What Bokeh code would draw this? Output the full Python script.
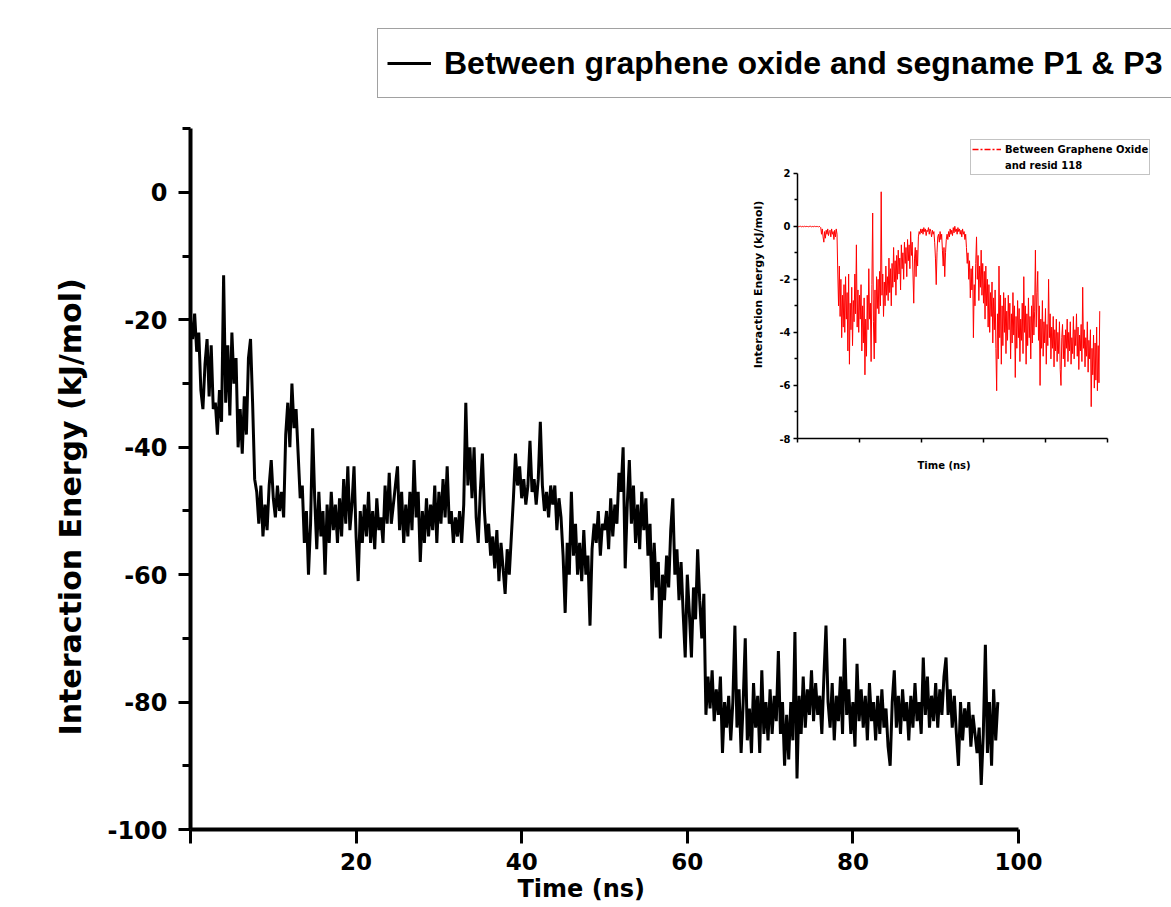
from bokeh.plotting import figure
from bokeh.models import Range1d, FixedTicker, Legend, LegendItem, Title
from bokeh.layouts import column
from bokeh.embed import file_html
from bokeh.resources import INLINE

# ---------------- data ----------------
time_step_ns = 0.25

# main trace: interaction energy (kJ/mol), one row per ns (0, .25, .5, .75)
main_energy = [
    -20, -23, -19, -25,   # 0
    -22, -31, -34, -27,   # 1
    -23, -32, -24, -34,   # 2
    -33, -38, -31, -36,   # 3
    -13, -33, -24, -35,   # 4
    -22, -30, -26, -40,   # 5
    -34, -41, -32, -38,   # 6
    -26, -23, -33, -45,   # 7
    -47, -52, -46, -54,   # 8
    -49, -53, -46, -42,   # 9
    -48, -51, -46, -50,   # 10
    -47, -51, -38, -33,   # 11
    -40, -30, -37, -34,   # 12
    -41, -48, -46, -55,   # 13
    -50, -60, -52, -37,   # 14
    -48, -56, -47, -54,   # 15
    -50, -60, -49, -55,   # 16
    -47, -53, -49, -55,   # 17
    -48, -54, -45, -52,   # 18
    -43, -53, -49, -43,   # 19
    -54, -61, -50, -55,   # 20
    -49, -54, -47, -55,   # 21
    -50, -56, -48, -53,   # 22
    -51, -55, -46, -52,   # 23
    -44, -52, -49, -46,   # 24
    -43, -53, -47, -55,   # 25
    -49, -54, -47, -53,   # 26
    -42, -51, -47, -58,   # 27
    -50, -55, -48, -54,   # 28
    -49, -53, -46, -55,   # 29
    -47, -52, -45, -51,   # 30
    -43, -52, -50, -55,   # 31
    -51, -54, -50, -55,   # 32
    -49, -33, -46, -40,   # 33
    -48, -40, -51, -55,   # 34
    -47, -41, -50, -55,   # 35
    -52, -57, -54, -59,   # 36
    -53, -61, -55, -59,   # 37
    -63, -56, -60, -54,   # 38
    -48, -41, -46, -43,   # 39
    -48, -45, -49, -46,   # 40
    -39, -47, -45, -49,   # 41
    -45, -36, -46, -50,   # 42
    -47, -51, -46, -49,   # 43
    -46, -53, -48, -51,   # 44
    -57, -66, -55, -60,   # 45
    -47, -57, -52, -60,   # 46
    -55, -61, -53, -60,   # 47
    -57, -68, -56, -52,   # 48
    -55, -50, -57, -52,   # 49
    -53, -50, -56, -48,   # 50
    -54, -49, -52, -44,   # 51
    -47, -40, -59, -49,   # 52
    -42, -52, -46, -55,   # 53
    -49, -56, -47, -53,   # 54
    -48, -57, -52, -64,   # 55
    -55, -62, -58, -70,   # 56
    -60, -64, -57, -62,   # 57
    -53, -48, -60, -56,   # 58
    -64, -58, -66, -73,   # 59
    -60, -66, -73, -62,   # 60
    -67, -56, -64, -70,   # 61
    -63, -82, -76, -81,   # 62
    -75, -83, -78, -82,   # 63
    -76, -88, -80, -84,   # 64
    -79, -86, -80, -68,   # 65
    -84, -78, -88, -80,   # 66
    -70, -86, -81, -88,   # 67
    -77, -84, -79, -88,   # 68
    -75, -85, -80, -86,   # 69
    -78, -85, -79, -83,   # 70
    -72, -85, -80, -90,   # 71
    -82, -89, -80, -86,   # 72
    -69, -92, -79, -85,   # 73
    -76, -84, -78, -82,   # 74
    -75, -83, -77, -82,   # 75
    -79, -85, -76, -68,   # 76
    -80, -84, -77, -86,   # 77
    -79, -83, -76, -85,   # 78
    -70, -82, -78, -85,   # 79
    -80, -87, -74, -83,   # 80
    -78, -84, -79, -86,   # 81
    -77, -83, -80, -86,   # 82
    -79, -85, -78, -84,   # 83
    -81, -87, -90, -80,   # 84
    -75, -84, -79, -85,   # 85
    -78, -83, -80, -86,   # 86
    -79, -84, -77, -83,   # 87
    -80, -85, -73, -82,   # 88
    -76, -84, -79, -83,   # 89
    -77, -84, -78, -82,   # 90
    -76, -73, -82, -78,   # 91
    -84, -79, -85, -90,   # 92
    -80, -86, -81, -84,   # 93
    -80, -87, -82, -85,   # 94
    -88, -84, -93, -85,   # 95
    -71, -88, -80, -90,   # 96
    -78, -86, -80,        # 97
]

# inset trace: interaction energy with resid 118 (kJ/mol)
inset_energy = [
    0.0, -0.02, 0.0, -0.01,     # 0
    0.0, -0.02, -0.01, 0.0,     # 1
    -0.02, 0.0, -0.01, -0.02,   # 2
    0.0, -0.01, -0.02, 0.0,     # 3
    -0.01, 0.0, -0.02, -0.01,   # 4
    0.0, -0.02, 0.0, -0.01,     # 5
    -0.02, 0.0, -0.01, -0.03,   # 6
    0.0, -0.02, -0.05, -0.3,    # 7
    -0.1, -0.4, -0.6, -0.2,     # 8
    -0.45, -0.15, -0.3, -0.1,   # 9
    -0.35, -0.2, -0.15, -0.4,   # 10
    -0.1, -0.3, -0.2, -0.5,     # 11
    -0.15, -0.4, -0.1, -0.3,    # 12
    -1.8, -3.0, -1.5, -3.4,     # 13
    -2.0, -4.2, -2.6, -3.8,     # 14
    -2.2, -4.0, -1.9, -3.5,     # 15
    -2.5, -4.7, -1.8, -5.2,     # 16
    -2.9, -3.9, -2.3, -4.5,     # 17
    -2.8, -3.6, -1.8, -3.3,     # 18
    -0.7, -3.8, -2.4, -4.0,     # 19
    -2.6, -3.5, -2.2, -4.7,     # 20
    -3.0, -4.4, -2.7, -5.6,     # 21
    -3.5, -4.9, -2.6, -3.9,     # 22
    -1.6, -3.5, -2.9, -5.1,     # 23
    -2.2, 0.5, -3.6, -5.0,      # 24
    -2.4, -4.4, -1.9, -3.1,     # 25
    -2.0, -3.3, -1.7, -3.0,     # 26
    1.3, -2.6, -1.8, -3.4,      # 27
    -2.1, -3.0, -1.5, -2.6,     # 28
    -1.9, -2.8, -1.2, -2.5,     # 29
    -1.6, -3.0, -1.4, -2.3,     # 30
    -0.8, -2.1, -1.3, -2.6,     # 31
    -1.1, -2.0, -0.9, -1.8,     # 32
    -1.2, -2.4, -0.7, -1.6,     # 33
    -1.0, -2.0, -0.6, -1.4,     # 34
    -0.8, -1.9, -0.5, -1.3,     # 35
    -0.7, -1.6, -0.2, -1.1,     # 36
    -0.6, -1.8, -2.9, -1.2,     # 37
    -0.8, -1.9, -0.9, -1.5,     # 38
    -0.4, -0.2, -0.3, -0.1,     # 39
    -0.25, -0.1, -0.3, -0.05,   # 40
    -0.2, -0.1, -0.35, -0.15,   # 41
    -0.2, -0.05, -0.3, -0.1,    # 42
    -0.2, -0.4, -0.15, -0.3,    # 43
    -0.2, -0.6, -1.2, -2.2,     # 44
    -1.0, -0.4, -0.3, -0.6,     # 45
    -0.2, -0.5, -0.3, -0.9,     # 46
    -1.5, -0.8, -1.9, -1.0,     # 47
    -0.5, -0.3, -0.5, -0.2,     # 48
    -0.4, -0.1, -0.3, -0.15,    # 49
    -0.35, -0.05, -0.25, 0.0,   # 50
    -0.2, -0.1, -0.3, -0.05,    # 51
    -0.2, -0.1, -0.3, -0.15,    # 52
    -0.4, -0.1, -0.3, -0.2,     # 53
    -0.5, -0.3, -0.8, -1.4,     # 54
    -1.0, -2.0, -1.3, -2.7,     # 55
    -1.6, -2.4, -1.5, -4.2,     # 56
    -2.2, -3.0, -1.4, -0.4,     # 57
    -2.0, -1.1, -2.8, -1.5,     # 58
    -2.3, -0.9, -2.6, -1.4,     # 59
    -2.9, -1.7, -3.5, -1.5,     # 60
    -3.0, -2.0, -3.8, -2.2,     # 61
    -4.0, -2.5, -3.4, -2.1,     # 62
    -4.4, -2.7, -3.9, -2.4,     # 63
    -4.6, -6.2, -3.3, -5.0,     # 64
    -1.5, -4.2, -2.6, -5.2,     # 65
    -3.0, -4.5, -2.5, -4.0,     # 66
    -2.7, -4.8, -3.2, -4.3,     # 67
    -2.6, -3.9, -2.9, -5.0,     # 68
    -3.3, -4.4, -2.5, -4.1,     # 69
    -3.0, -5.7, -3.4, -4.6,     # 70
    -2.8, -4.2, -3.1, -5.1,     # 71
    -3.5, -4.3, -2.9, -4.8,     # 72
    -1.9, -4.0, -3.0, -5.2,     # 73
    -3.3, -4.5, -2.7, -4.2,     # 74
    -3.4, -5.0, -3.0, -4.4,     # 75
    -2.6, -4.1, -3.2, -0.9,     # 76
    -3.8, -2.5, -1.7, -4.3,     # 77
    -3.0, -6.0, -3.5, -4.6,     # 78
    -2.8, -4.9, -3.6, -4.4,     # 79
    -3.1, -5.2, -3.7, -4.5,     # 80
    -2.0, -4.2, -3.3, -5.0,     # 81
    -3.8, -4.6, -3.4, -5.3,     # 82
    -3.9, -4.7, -3.5, -5.1,     # 83
    -4.0, -4.8, -3.6, -5.4,     # 84
    -6.0, -4.2, -3.7, -5.0,     # 85
    -4.1, -5.3, -3.9, -4.6,     # 86
    -3.5, -5.1, -4.0, -4.7,     # 87
    -3.6, -5.2, -4.2, -4.8,     # 88
    -3.4, -5.0, -3.9, -4.5,     # 89
    -3.3, -4.9, -3.8, -5.4,     # 90
    -4.1, -4.7, -3.7, -5.1,     # 91
    -2.3, -4.6, -3.9, -5.3,     # 92
    -4.2, -4.9, -3.6, -5.5,     # 93
    -4.3, -5.0, -3.9, -6.8,     # 94
    -4.6, -5.6, -4.1, -6.1,     # 95
    -4.4, -5.8, -3.8, -6.2,     # 96
    -4.5, -5.9, -3.2,           # 97
]

main_time = [i * time_step_ns for i in range(len(main_energy))]
inset_time = [i * time_step_ns for i in range(len(inset_energy))]

main_x_labeled_ticks = [20, 40, 60, 80, 100]
main_x_start_tick = [0]
main_y_ticks = [-100, -80, -60, -40, -20, 0]
main_y_minor = [-90, -70, -50, -30, -10, 10]
inset_x_ticks = [0, 20, 40, 60, 80, 100]
inset_y_ticks = [-8, -6, -4, -2, 0, 2]
inset_y_minor = [-7, -5, -3, -1, 1]

main_legend_label = "Between graphene oxide and segname P1 & P3"
inset_legend_line1 = "Between Graphene Oxide"
inset_legend_line2 = "and resid 118"
x_title = "Time (ns)"
y_title = "Interaction Energy (kJ/mol)"

FONT = "DejaVu Sans"
LEFT_BORDER = 190   # shared by both plots (column aligns plot frames)

# ---------------- main figure ----------------
p = figure(width=1171, height=907, output_backend="svg", toolbar_location=None,
           x_range=Range1d(0, 118.48), y_range=Range1d(-100, 30.14),
           min_border_left=LEFT_BORDER, min_border_right=0, min_border_top=0,
           min_border_bottom=78)
p.title.visible = False
p.background_fill_color = "white"
p.border_fill_color = "white"
p.outline_line_color = None
p.xgrid.visible = False
p.ygrid.visible = False

xa = p.xaxis[0]
xa.bounds = (0, 100)
xa.ticker = FixedTicker(ticks=main_x_labeled_ticks, minor_ticks=main_x_start_tick)
xa.axis_line_width = 4
xa.axis_line_color = "black"
xa.major_tick_line_width = 3
xa.major_tick_out = 14
xa.major_tick_in = 0
xa.minor_tick_line_width = 3
xa.minor_tick_out = 14
xa.minor_tick_in = 0
xa.major_label_standoff = 9
xa.major_label_text_font = FONT
xa.major_label_text_font_style = "bold"
xa.major_label_text_font_size = "23px"
xa.major_label_text_color = "black"

ya = p.yaxis[0]
ya.bounds = (-100, 10)
ya.ticker = FixedTicker(ticks=main_y_ticks, minor_ticks=main_y_minor)
ya.major_label_overrides = {v: str(v) for v in main_y_ticks}
ya.axis_line_width = 4
ya.axis_line_color = "black"
ya.major_tick_line_width = 3
ya.major_tick_out = 12
ya.major_tick_in = 0
ya.minor_tick_line_width = 3
ya.minor_tick_out = 8
ya.minor_tick_in = 0
ya.major_label_standoff = 11
ya.major_label_text_font = FONT
ya.major_label_text_font_style = "bold"
ya.major_label_text_font_size = "24px"
ya.major_label_text_color = "black"

p.add_layout(Title(text=y_title, align="left", offset=94, standoff=33,
                   text_font=FONT, text_font_style="bold",
                   text_font_size="30px", text_color="black"), "left")
p.add_layout(Title(text=x_title, align="left", offset=327, standoff=0,
                   text_font=FONT, text_font_style="bold",
                   text_font_size="24px", text_color="black"), "below")

main_line = p.line(main_time, main_energy, line_color="black", line_width=3)

main_legend = Legend(
    items=[LegendItem(label=main_legend_label, renderers=[main_line])],
    location=(187, 731),
    padding=9, spacing=0, margin=0,
    glyph_width=44, glyph_height=50, label_height=50, label_standoff=13,
    label_text_font="Liberation Sans", label_text_font_style="bold",
    label_text_font_size="32px", label_text_color="black",
    border_line_color="#444444", border_line_width=1,
    background_fill_color="white", background_fill_alpha=1.0,
)
p.add_layout(main_legend)

# ---------------- inset figure ----------------
INSET_FRAME_W = 363
q = figure(width=LEFT_BORDER + INSET_FRAME_W, height=360, output_backend="svg",
           toolbar_location=None,
           x_range=Range1d(0, 117.1), y_range=Range1d(-8, 3.61),
           min_border_left=LEFT_BORDER, min_border_right=0, min_border_top=0,
           min_border_bottom=52)
q.title.visible = False
q.background_fill_color = None
q.border_fill_color = None
q.outline_line_color = None
q.xgrid.visible = False
q.ygrid.visible = False

qx = q.xaxis[0]
qx.bounds = (0, 100)
qx.ticker = FixedTicker(ticks=[], minor_ticks=inset_x_ticks)
qx.axis_line_width = 1.5
qx.minor_tick_line_width = 1.5
qx.minor_tick_out = 4
qx.minor_tick_in = 0
qx.major_tick_out = 4
qx.major_tick_in = 0
qx.major_label_standoff = 0

qy = q.yaxis[0]
qy.bounds = (-8, 2)
qy.ticker = FixedTicker(ticks=inset_y_ticks, minor_ticks=inset_y_minor)
qy.major_label_overrides = {v: str(v) for v in inset_y_ticks}
qy.axis_line_width = 1.5
qy.major_tick_line_width = 1.5
qy.major_tick_out = 4
qy.major_tick_in = 0
qy.minor_tick_line_width = 1.5
qy.minor_tick_out = 3
qy.minor_tick_in = 0
qy.major_label_standoff = 3
qy.major_label_text_font = FONT
qy.major_label_text_font_style = "bold"
qy.major_label_text_font_size = "10px"
qy.major_label_text_color = "black"
qy.axis_label = y_title
qy.axis_label_standoff = 11
qy.axis_label_text_font = FONT
qy.axis_label_text_font_style = "bold"
qy.axis_label_text_font_size = "11px"
qy.axis_label_text_color = "black"

q.add_layout(Title(text=x_title, align="left", offset=120, standoff=31,
                   text_font=FONT, text_font_style="bold",
                   text_font_size="10px", text_color="black"), "below")

q.line(inset_time, inset_energy, line_color="#ff0000", line_width=1)
# legend key (dash-dot) — hidden renderer, shown only as the legend glyph
key_line = q.line(inset_time, inset_energy, line_color="#ff0000", line_width=1.5,
                  line_dash="6 2 2 2", visible=False)
blank_line = q.line(inset_time, inset_energy, line_alpha=0, visible=False)

inset_legend = Legend(
    items=[LegendItem(label=inset_legend_line1, renderers=[key_line]),
           LegendItem(label=inset_legend_line2, renderers=[blank_line])],
    location=(173, 263),
    padding=1, spacing=0, margin=0,
    glyph_width=29, glyph_height=16, label_height=16, label_standoff=4,
    label_text_font=FONT, label_text_font_style="bold",
    label_text_font_size="10px", label_text_color="black",
    border_line_color="#888888", border_line_width=1,
    background_fill_color="white", background_fill_alpha=1.0,
    inactive_fill_alpha=0.0,
)
q.add_layout(inset_legend)

# place the inset over the main plot (its frame starts at page x = 797)
q.styles = {"position": "absolute", "left": f"{797 - LEFT_BORDER}px", "top": "130px"}

layout = column(p, q)
open("out.html", "w").write(file_html(layout, INLINE))
